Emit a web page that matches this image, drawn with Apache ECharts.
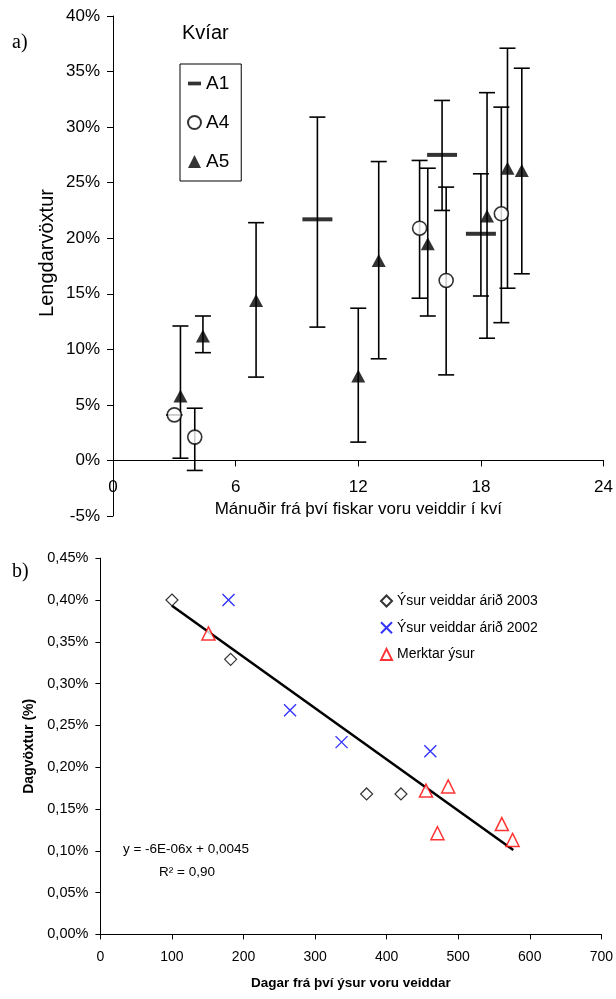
<!DOCTYPE html>
<html><head><meta charset="utf-8">
<script src="https://cdn.jsdelivr.net/npm/echarts@6/dist/echarts.min.js"></script>
<style>html,body{margin:0;padding:0;background:#fff}#c{width:616px;height:999px}</style>
</head><body><div id="c"></div><script>
// ---- Chart a) Kvíar : months vs length growth (%) ----
const topXTicks = [0, 6, 12, 18, 24];
const a1X  = [10, 16.1, 18];
const a1Y  = [21.7, 27.5, 20.4];
const a1Lo = [12.0, 22.5, 14.8];
const a1Hi = [30.9, 32.4, 25.8];
const a4X  = [3, 4, 15, 16.3, 19.0];
const a4Y  = [4.1, 2.1, 20.9, 16.2, 22.2];
const a4Lo = [4.1, -0.9, 14.6, 7.7, 12.4];
const a4Hi = [4.1, 4.7, 27.0, 24.6, 31.8];
const a5X  = [3.3, 4.4, 7.0, 12.0, 13.0, 15.4, 18.3, 19.3, 20.0];
const a5Y  = [5.8, 11.2, 14.4, 7.6, 18.0, 19.5, 22.0, 26.3, 26.1];
const a5Lo = [0.2, 9.7, 7.5, 1.65, 9.15, 13.0, 11.0, 15.5, 16.8];
const a5Hi = [12.1, 13.0, 21.4, 13.7, 26.9, 26.3, 33.1, 37.1, 35.3];

// ---- Chart b) days vs daily growth (%) ----
const y2003X = [100, 182, 372, 420];
const y2003Y = [0.400, 0.329, 0.168, 0.168];
const y2002X = [179, 265, 337, 461];
const y2002Y = [0.400, 0.268, 0.230, 0.219];
const merkX  = [151, 455, 486, 471, 561, 576];
const merkY  = [0.360, 0.172, 0.177, 0.121, 0.132, 0.113];
const trendX = [100, 577];
const trendY = [0.393, 0.101];

const FONT = 'Liberation Sans, Arial, sans-serif';
const zip = (xs, ys) => xs.map((x, i) => [x, ys[i]]);
const zip3 = (xs, lo, hi) => xs.map((x, i) => [x, lo[i], hi[i]]);

function errRender(params, api) {
  const x = api.value(0), lo = api.value(1), hi = api.value(2);
  const pLo = api.coord([x, lo]), pHi = api.coord([x, hi]);
  const w = 8;
  const style = { stroke: '#000', lineWidth: 1.6, fill: null };
  return { type: 'group', children: [
    { type: 'line', shape: { x1: pLo[0], y1: pLo[1], x2: pHi[0], y2: pHi[1] }, style },
    { type: 'line', shape: { x1: pLo[0] - w, y1: pLo[1], x2: pLo[0] + w, y2: pLo[1] }, style },
    { type: 'line', shape: { x1: pHi[0] - w, y1: pHi[1], x2: pHi[0] + w, y2: pHi[1] }, style }
  ]};
}
function errSeries(xs, lo, hi) {
  return { type: 'custom', xAxisIndex: 0, yAxisIndex: 0, renderItem: errRender,
    data: zip3(xs, lo, hi), encode: { x: 0, y: [1, 2] }, z: 2, silent: true };
}

const axisLineBlack = { show: true, onZero: false, lineStyle: { color: '#000', width: 1 } };
const pct2 = v => v.toFixed(2).replace('.', ',') + '%';

const TOP_H = 500, TOP_MIN = -5, TOP_MAX = 40;
const option = {
  animation: false,
  backgroundColor: '#fff',
  textStyle: { fontFamily: FONT },
  grid: [
    { left: 113, top: 16, width: 493, height: TOP_H },
    { left: 100.4, top: 558.2, width: 502.6, height: 376.2 }
  ],
  xAxis: [
    { gridIndex: 0, type: 'value', min: 0, max: 24, interval: 6,
      offset: -TOP_H * (0 - TOP_MIN) / (TOP_MAX - TOP_MIN),
      axisLine: axisLineBlack,
      axisTick: { show: true, length: 6, lineStyle: { color: '#000' } },
      axisLabel: { color: '#000', fontSize: 17, fontFamily: FONT, margin: 18 },
      splitLine: { show: false },
      name: 'Mánuðir frá því fiskar voru veiddir í kví', nameLocation: 'middle', nameGap: 40,
      nameTextStyle: { color: '#000', fontSize: 17, fontFamily: FONT } },
    { gridIndex: 1, type: 'value', min: 0, max: 700, interval: 100,
      axisLine: axisLineBlack,
      axisTick: { show: true, length: 5, lineStyle: { color: '#000' } },
      axisLabel: { color: '#000', fontSize: 14, fontFamily: FONT, margin: 16 },
      splitLine: { show: false },
      name: 'Dagar frá því ýsur voru veiddar', nameLocation: 'middle', nameGap: 42,
      nameTextStyle: { color: '#000', fontSize: 13.5, fontWeight: 'bold', fontFamily: FONT } }
  ],
  yAxis: [
    { gridIndex: 0, type: 'value', min: TOP_MIN, max: TOP_MAX, interval: 5,
      axisLine: axisLineBlack,
      axisTick: { show: true, length: 6, lineStyle: { color: '#000' } },
      axisLabel: { color: '#000', fontSize: 17, fontFamily: FONT, margin: 13, formatter: '{value}%' },
      splitLine: { show: false } },
    { gridIndex: 1, type: 'value', min: 0, max: 0.45, interval: 0.05,
      axisLine: axisLineBlack,
      axisTick: { show: true, length: 5, lineStyle: { color: '#000' } },
      axisLabel: { color: '#000', fontSize: 14.5, fontFamily: FONT, margin: 12, formatter: pct2 },
      splitLine: { show: false },
      name: 'Dagvöxtur (%)', nameLocation: 'middle', nameGap: 60, nameRotate: 90,
      nameTextStyle: { color: '#000', fontSize: 14, fontWeight: 'bold', fontFamily: FONT } }
  ],
  legend: [
    { data: [ { name: 'A1', icon: 'path://M0,0H14V4H0Z' }, { name: 'A4' }, { name: 'A5' } ],
      orient: 'vertical', left: 180, top: 64, itemWidth: 13, itemHeight: 13, itemGap: 20,
      padding: [10, 12, 10, 7], borderColor: '#000', borderWidth: 1, backgroundColor: '#fff',
      selectedMode: false,
      textStyle: { color: '#000', fontSize: 19, fontFamily: FONT, lineHeight: 19 } },
    { data: ['Ýsur veiddar árið 2003', 'Ýsur veiddar árið 2002', 'Merktar ýsur'],
      orient: 'vertical', left: 380, top: 594, itemWidth: 11, itemHeight: 11, itemGap: 12.7,
      padding: 0, selectedMode: false,
      textStyle: { color: '#000', fontSize: 14, fontFamily: FONT, lineHeight: 14 } }
  ],
  series: [
    errSeries(a1X, a1Lo, a1Hi),
    errSeries(a4X, a4Lo, a4Hi),
    errSeries(a5X, a5Lo, a5Hi),
    { name: 'A1', type: 'scatter', xAxisIndex: 0, yAxisIndex: 0, data: zip(a1X, a1Y),
      symbol: 'rect', symbolSize: [30, 4], itemStyle: { color: '#000' }, z: 3 },
    { name: 'A4', type: 'scatter', xAxisIndex: 0, yAxisIndex: 0, data: zip(a4X, a4Y),
      symbol: 'circle', symbolSize: 14, itemStyle: { color: '#fff', borderColor: '#000', borderWidth: 1.6 }, z: 3 },
    { name: 'A5', type: 'scatter', xAxisIndex: 0, yAxisIndex: 0, data: zip(a5X, a5Y),
      symbol: 'triangle', symbolSize: [14, 13], itemStyle: { color: '#000' }, z: 3 },
    { name: 'trend', type: 'line', xAxisIndex: 1, yAxisIndex: 1, data: zip(trendX, trendY),
      symbol: 'none', lineStyle: { color: '#000', width: 2.5 }, z: 2, silent: true },
    { name: 'Ýsur veiddar árið 2003', type: 'scatter', xAxisIndex: 1, yAxisIndex: 1, data: zip(y2003X, y2003Y),
      symbol: 'diamond', symbolSize: 12, itemStyle: { color: '#fff', borderColor: '#000', borderWidth: 1.2 }, z: 3 },
    { name: 'Ýsur veiddar árið 2002', type: 'scatter', xAxisIndex: 1, yAxisIndex: 1, data: zip(y2002X, y2002Y),
      symbol: 'path://M0,0L10,10M10,0L0,10', symbolSize: 12,
      itemStyle: { color: 'rgba(0,0,0,0)', borderColor: '#0000ff', borderWidth: 1.4 }, z: 3 },
    { name: 'Merktar ýsur', type: 'scatter', xAxisIndex: 1, yAxisIndex: 1, data: zip(merkX, merkY),
      symbol: 'triangle', symbolSize: [13, 13], itemStyle: { color: '#fff', borderColor: '#ff0000', borderWidth: 1.5 }, z: 3 }
  ],
  graphic: [
    { type: 'text', left: 12, top: 33, style: { text: 'a)', font: '20px Liberation Serif, Times New Roman, serif', fill: '#000' } },
    { type: 'text', left: 12, top: 562, style: { text: 'b)', font: '20px Liberation Serif, Times New Roman, serif', fill: '#000' } },
    { type: 'text', left: 182, top: 23, style: { text: 'Kvíar', font: '20px ' + FONT, fill: '#000' } },
    { type: 'text', x: 47, y: 253, rotation: Math.PI / 2,
      style: { text: 'Lengdarvöxtur', font: '20px ' + FONT, fill: '#000', textAlign: 'center', textVerticalAlign: 'middle' } },
    { type: 'text', x: 186, y: 849, style: { text: 'y = -6E-06x + 0,0045', font: '13.5px ' + FONT, fill: '#000', textAlign: 'center', textVerticalAlign: 'middle' } },
    { type: 'text', x: 187, y: 872, style: { text: 'R² = 0,90', font: '13.5px ' + FONT, fill: '#000', textAlign: 'center', textVerticalAlign: 'middle' } }
  ]
};
const chart = echarts.init(document.getElementById('c'), null, { renderer: 'canvas' });
chart.setOption(option);
</script></body></html>
